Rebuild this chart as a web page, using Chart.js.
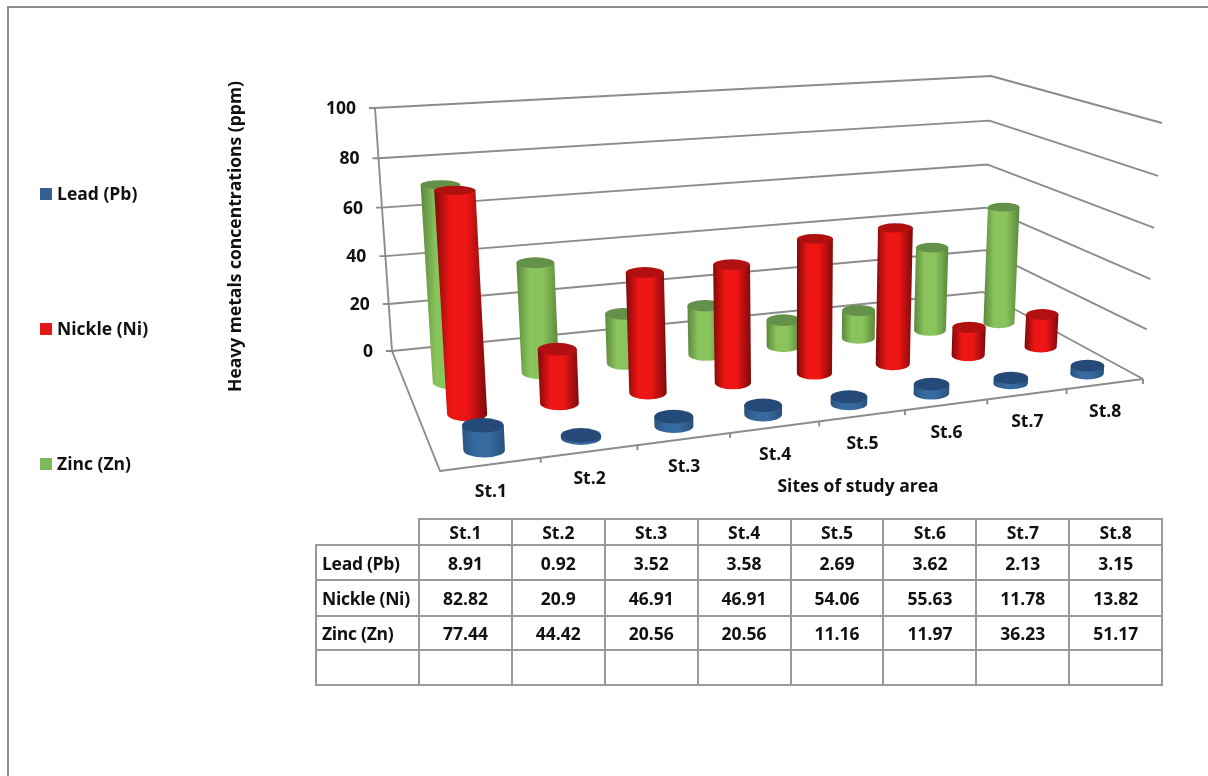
<!DOCTYPE html>
<html>
<head>
<meta charset="utf-8">
<script src="https://cdn.jsdelivr.net/npm/chart.js@4"></script>
<style>
  html, body { margin: 0; padding: 0; background: #fff; overflow: hidden; }
  #wrap { position: relative; width: 1208px; height: 776px; overflow: hidden; }
  #frame { position: absolute; left: 7px; top: 6px; width: 1300px; height: 900px; border: 2px solid #8e8e8e; }
  canvas { position: absolute; left: 0; top: 0; }
  table { position: absolute; left: 315px; top: 518px; border-collapse: collapse; table-layout: fixed; width: 846px;
    font: bold 17.5px "Open Sans", sans-serif; color: #111; }
  td { border: 2px solid #999; text-align: center; padding: 0; }
  td.name { text-align: left; padding-left: 5px; white-space: nowrap; letter-spacing: -0.3px; }
  td.blank { border-top: none; border-left: none; }
</style>
</head>
<body>
<div id="wrap">
  <div id="frame"></div>
  <canvas id="chart" width="1208" height="776"></canvas>
  <table id="values"></table>
</div>
<script>
const sites = ['St.1', 'St.2', 'St.3', 'St.4', 'St.5', 'St.6', 'St.7', 'St.8'];
const lead = [8.91, 0.92, 3.52, 3.58, 2.69, 3.62, 2.13, 3.15];
const nickle = [82.82, 20.9, 46.91, 46.91, 54.06, 55.63, 11.78, 13.82];
const zinc = [77.44, 44.42, 20.56, 20.56, 11.16, 11.97, 36.23, 51.17];
const seriesNames = ['Lead (Pb)', 'Nickle (Ni)', 'Zinc (Zn)'];
const yTitle = 'Heavy metals concentrations (ppm)';
const xTitle = 'Sites of study area';

const legendColors = ['#376092', '#e41717', '#7fba59'];
const edgeColors = ['#28527f', '#7e0a0a', '#5b873c'];
const midColors = ['#376a9f', '#ee1515', '#8ac45c'];
const capColors = ['#264a78', '#b01010', '#64914a'];

// box corners on screen: front-left, front-right, back-right, back-left
const floorQuad = [[440, 471], [1143, 379], [983, 292], [392, 351]];
const roofQuad = [[423, 173], [1162, 123], [991, 76], [375, 108]];
const lineColor = '#8c8c8c';
const textFont = 'bold 17.5px "Open Sans", sans-serif';

function quadMap(q) {
  const [x0, y0] = q[0], [x1, y1] = q[1], [x2, y2] = q[2], [x3, y3] = q[3];
  const dx1 = x1 - x2, dx2 = x3 - x2, sx = x0 - x1 + x2 - x3;
  const dy1 = y1 - y2, dy2 = y3 - y2, sy = y0 - y1 + y2 - y3;
  const det = dx1 * dy2 - dx2 * dy1;
  const g = (sx * dy2 - dx2 * sy) / det, h = (dx1 * sy - sx * dy1) / det;
  const a = x1 - x0 + g * x1, b = x3 - x0 + h * x3;
  const d = y1 - y0 + g * y1, e = y3 - y0 + h * y3;
  return (u, w) => {
    const n = g * u + h * w + 1;
    return { x: (a * u + b * w + x0) / n, y: (d * u + e * w + y0) / n };
  };
}
const floorMap = quadMap(floorQuad);
const roofMap = quadMap(roofQuad);

// u along sites, w into the depth, t up the value axis (all 0..1)
function project(u, w, t) {
  const s = t * 0.96 / (1 - 0.04 * t);
  // front rows are a bit more foreshortened than the plain quad gives
  const uu = u - 0.034 * u * (1 - u) * (1 - 1.4 * w);
  const a = floorMap(uu, w), b = roofMap(uu, w);
  return { x: a.x + (b.x - a.x) * s, y: a.y + (b.y - a.y) * s };
}

function line(ctx, pts) {
  ctx.beginPath();
  pts.forEach((p, i) => i ? ctx.lineTo(p.x, p.y) : ctx.moveTo(p.x, p.y));
  ctx.stroke();
}

function radiusAt(u, w, t, step) {
  const cat = Math.abs(project(u + step / 2, w, t).x - project(u - step / 2, w, t).x);
  return 0.17 * cat + 4;
}

function drawCylinder(ctx, u, w, t, step, idx) {
  const b = project(u, w, 0), top = project(u, w, t);
  const rb = radiusAt(u, w, 0, step), rt = radiusAt(u, w, t, step);
  const yb = rb * 0.36, yt = rt * (0.36 - 0.17 * t);
  const left = Math.min(b.x - rb, top.x - rt), right = Math.max(b.x + rb, top.x + rt);
  const grad = ctx.createLinearGradient(left, 0, right, 0);
  grad.addColorStop(0, edgeColors[idx]);
  grad.addColorStop(0.3, midColors[idx]);
  grad.addColorStop(0.62, midColors[idx]);
  grad.addColorStop(1, edgeColors[idx]);
  ctx.fillStyle = grad;
  ctx.beginPath();
  ctx.moveTo(b.x - rb, b.y);
  ctx.ellipse(b.x, b.y, rb, yb, 0, Math.PI, 0, true);
  ctx.lineTo(top.x + rt, top.y);
  ctx.lineTo(top.x - rt, top.y);
  ctx.closePath();
  ctx.fill();
  ctx.fillStyle = capColors[idx];
  ctx.beginPath();
  ctx.ellipse(top.x, top.y, rt, yt, 0, 0, Math.PI * 2);
  ctx.fill();
}

const scene3d = {
  id: 'scene3d',
  beforeDatasetsDraw(chart) {
    const ctx = chart.ctx;
    const xs = chart.scales.x, ys = chart.scales.y, zs = chart.scales.depth;
    const toU = px => (px - xs.left) / xs.width;
    const toT = px => (ys.bottom - px) / ys.height;
    // rows sit a little forward of the floor's middle
    const toW = i => (zs.getPixelForValue(i) - zs.left) / zs.width * 0.825 - 0.0375;
    const step = 1 / sites.length;

    ctx.save();
    ctx.lineWidth = 1.9;
    ctx.strokeStyle = lineColor;
    ctx.lineJoin = 'round';
    ctx.font = textFont;
    ctx.textBaseline = 'middle';

    // walls and gridlines
    ys.ticks.forEach(tick => {
      const t = toT(ys.getPixelForValue(tick.value));
      const back = project(0, 1, t);
      line(ctx, [{ x: back.x - 6, y: back.y }, back, project(1, 1, t), project(1, 0, t)]);
      ctx.fillStyle = '#111';
      ctx.textAlign = 'right';
      ctx.fillText(String(tick.value), back.x - 19, back.y + 1);
    });
    line(ctx, [project(0, 1, 1), project(0, 1, 0), project(0, 0, 0), project(1, 0, 0)]);

    // site ticks and labels on the front edge
    sites.forEach((name, i) => {
      const p = project((i + 1) * step, 0, 0);
      line(ctx, [p, { x: p.x, y: p.y + 5 }]);
      const m = project((i + 0.5) * step, 0, 0);
      ctx.fillStyle = '#111';
      ctx.textAlign = 'center';
      ctx.fillText(name, m.x, m.y + 28);
    });

    // back row first so the front rows cover it
    for (let d = chart.data.datasets.length - 1; d >= 0; d--) {
      chart.getDatasetMeta(d).data.forEach(bar => {
        drawCylinder(ctx, toU(bar.x), toW(d), toT(bar.y), step, d);
      });
    }

    // legend
    seriesNames.forEach((name, i) => {
      const y = 194 + i * 135;
      ctx.fillStyle = legendColors[i];
      ctx.fillRect(40, y - 6, 12, 12);
      ctx.fillStyle = '#111';
      ctx.textAlign = 'left';
      ctx.fillText(name, 57, y + 1);
    });

    // axis titles
    ctx.textAlign = 'center';
    ctx.fillText(xTitle, 858, 487);
    ctx.translate(236, 236.5);
    ctx.rotate(-Math.PI / 2);
    ctx.fillText(yTitle, 0, 0);
    ctx.restore();
    return false;
  }
};

new Chart(document.getElementById('chart'), {
  type: 'bar',
  data: {
    labels: sites,
    datasets: [lead, nickle, zinc].map((vals, i) => ({
      label: seriesNames[i],
      data: vals,
      backgroundColor: legendColors[i],
      grouped: false
    }))
  },
  options: {
    responsive: false,
    animation: false,
    plugins: { legend: { display: false }, tooltip: { enabled: false } },
    scales: {
      x: { display: false },
      y: { display: false, min: 0, max: 100, ticks: { stepSize: 20 } },
      depth: { axis: 'x', type: 'category', labels: seriesNames, display: false }
    }
  },
  plugins: [scene3d]
});

// data table under the chart
const rowHeights = [26, 35, 36, 34, 35];
const rows = [[''].concat(sites)];
[lead, nickle, zinc].forEach((vals, i) => rows.push([seriesNames[i]].concat(vals)));
rows.push([''].concat(sites.map(() => '')));
let html = '<colgroup><col style="width:103px">' + sites.map(() => '<col style="width:92.9px">').join('') + '</colgroup>';
rows.forEach((row, r) => {
  html += `<tr style="height:${rowHeights[r]}px">`;
  row.forEach((cell, c) => {
    const cls = r === 0 && c === 0 ? 'blank' : c === 0 ? 'name' : '';
    html += `<td class="${cls}">${cell}</td>`;
  });
  html += '</tr>';
});
document.getElementById('values').innerHTML = html;
</script>
</body>
</html>
